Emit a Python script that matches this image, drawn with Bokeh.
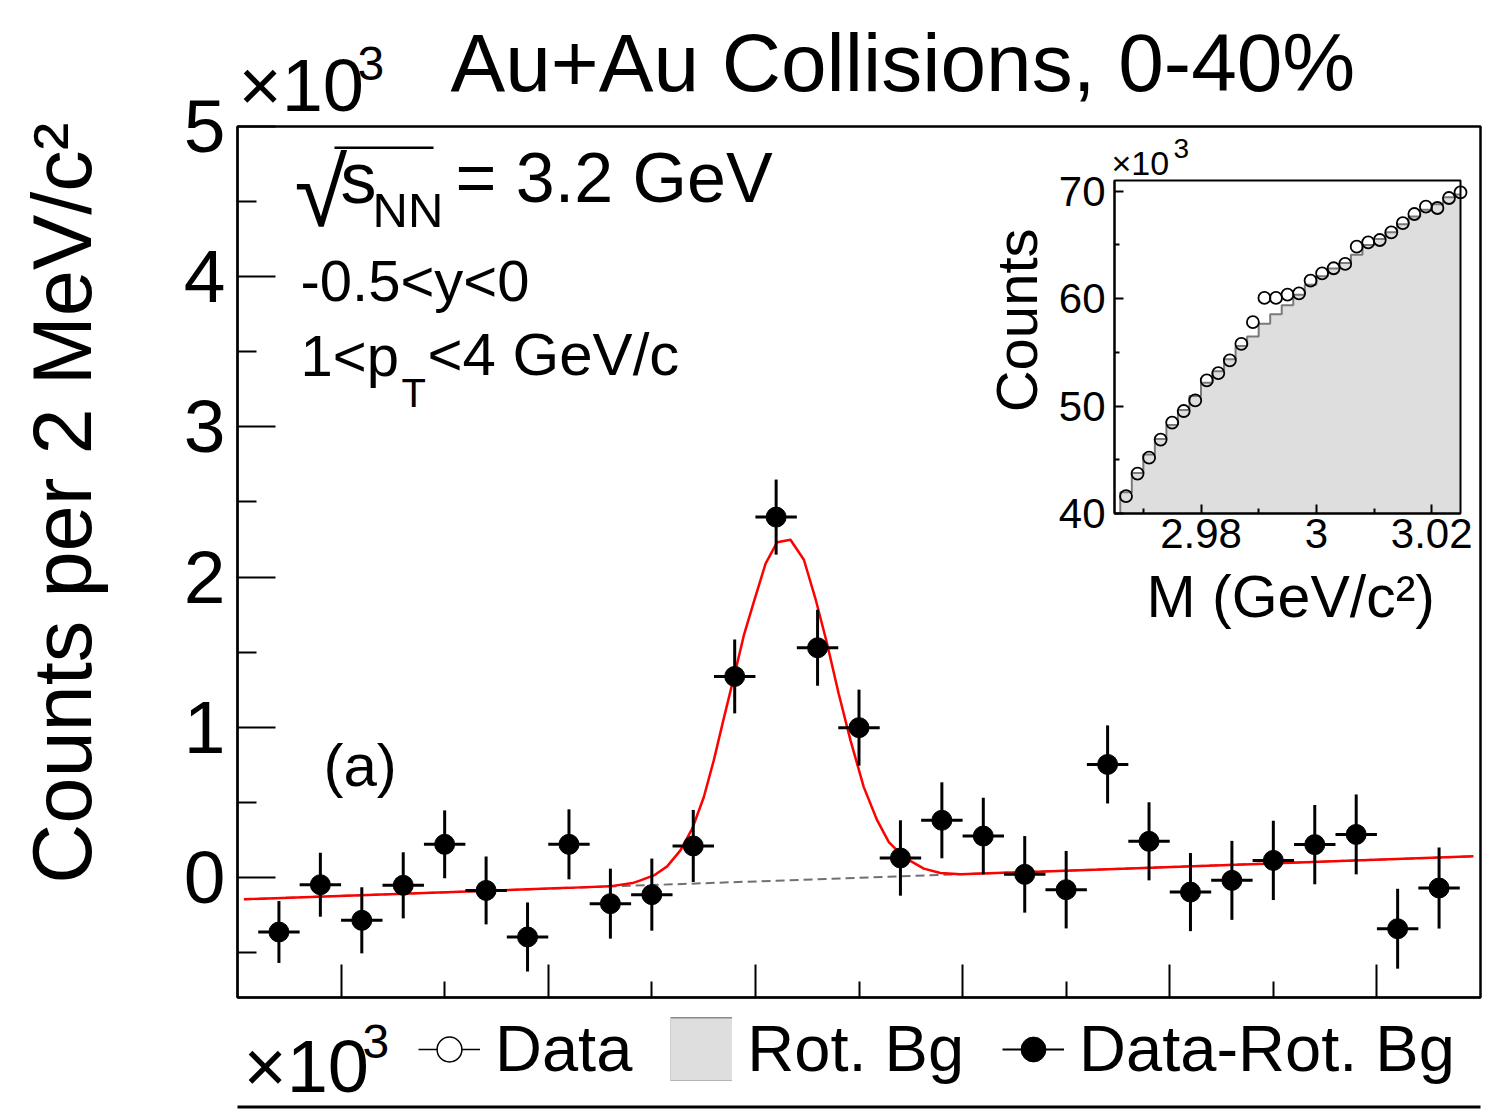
import numpy as np
from bokeh.plotting import figure
from bokeh.models import (Range1d, LinearAxis, FixedTicker, Label, Legend, LegendItem,
                          BoxAnnotation, CustomJSTickFormatter)
from bokeh.embed import file_html
from bokeh.resources import INLINE

FONT = "Liberation Sans"

# ---------------- data ----------------
# invariant-mass bin centres (GeV/c^2), 2 MeV bins
mass_centers = [2.967, 2.969, 2.971, 2.973, 2.975, 2.977, 2.979, 2.981, 2.983, 2.985,
                2.987, 2.989, 2.991, 2.993, 2.995, 2.997, 2.999, 3.001, 3.003, 3.005,
                3.007, 3.009, 3.011, 3.013, 3.015, 3.017, 3.019, 3.021, 3.023, 3.025]
bin_width = 0.002

# Data - Rot. Bg  (x10^3 counts per 2 MeV/c^2), main panel (29 visible bins)
signal = [-0.364, -0.049, -0.286, -0.053, 0.220, -0.087, -0.397, 0.220, -0.175, -0.115,
          0.209, 1.338, 2.399, 1.529, 0.997, 0.129, 0.380, 0.275, 0.020, -0.082,
          0.752, 0.240, -0.098, -0.020, 0.113, 0.218, 0.286, -0.342, -0.071]
signal_err = [0.206, 0.213, 0.220, 0.220, 0.226, 0.226, 0.230, 0.233, 0.233, 0.240,
              0.240, 0.246, 0.250, 0.253, 0.253, 0.251, 0.253, 0.255, 0.255, 0.258,
              0.260, 0.260, 0.260, 0.263, 0.264, 0.264, 0.266, 0.266, 0.270]

# inset: Data (open circles) and rotational background (x10^3 counts)
data_counts = [41.61, 43.72, 45.20, 46.88, 48.46, 49.54, 50.53, 52.39, 53.07, 54.25,
               55.80, 57.81, 60.07, 60.07, 60.38, 60.50, 61.68, 62.36, 62.83, 63.23,
               64.84, 65.24, 65.46, 66.17, 67.04, 67.88, 68.56, 68.44, 69.37, 69.89]
rot_bg = [41.97, 43.77, 45.49, 46.93, 48.24, 49.63, 50.93, 52.17, 53.25, 54.37,
          55.59, 56.47, 57.67, 58.54, 59.38, 60.37, 61.30, 62.09, 62.81, 63.31,
          64.09, 65.00, 65.56, 66.19, 66.93, 67.66, 68.27, 68.78, 69.44, 69.70]

# fit curve (Gaussian + linear), sampled from the figure
fit_x = [2.96531, 2.98098, 2.98296, 2.98407, 2.98445, 2.98510, 2.98574, 2.98638, 2.98695,
         2.98751, 2.98799, 2.98847, 2.98904, 2.98944, 2.98992, 2.99049, 2.99105, 2.99169,
         2.99234, 2.99290, 2.99346, 2.99402, 2.99459, 2.99523, 2.99588, 2.99644, 2.99716,
         2.99813, 2.99893, 2.99990, 3.02466]
fit_y = [-0.146, -0.070, -0.060, -0.038, -0.020, 0.013, 0.073, 0.180, 0.324,
         0.535, 0.779, 1.057, 1.378, 1.611, 1.833, 2.089, 2.232, 2.248,
         2.115, 1.855, 1.556, 1.223, 0.912, 0.601, 0.379, 0.235, 0.135,
         0.058, 0.029, 0.020, 0.140]
# linear residual background of the fit (dashed)
bgfit_x = [2.96531, 3.02466]
bgfit_y = [-0.146, 0.140]

title_text = "Au+Au Collisions, 0-40%"
main_x_ticks = [2.97, 2.98, 2.99, 3.00, 3.01, 3.02]
main_x_minor = [2.975, 2.985, 2.995, 3.005, 3.015]
main_y_ticks = [0, 1, 2, 3, 4, 5]
main_y_minor = [-0.5, 0.5, 1.5, 2.5, 3.5, 4.5]
inset_x_ticks = [2.98, 3.00, 3.02]
inset_x_minor = [2.97, 2.99, 3.01]
inset_y_ticks = [40, 50, 60, 70]
inset_y_minor = [45, 55, 65]

# ---------------- layout (page pixels) ----------------
W, H = 1485, 1109
FL, FR, FT, FB = 237, 1480, 126, 997          # main frame box
IL, IR, IT, IB = 1114, 1460, 180, 513         # inset frame box

XR = (2.965, 3.025)
YR = (-0.8, 5.0)
IX = (2.965, 3.025)
IY = (40.0, 71.0)


def x_span(lo, hi, p_lo, p_hi):
    ppu = (p_hi - p_lo) / (hi - lo)
    start = lo - p_lo / ppu
    return Range1d(start, start + W / ppu)


def y_span(lo, hi, p_bottom, p_top):
    ppu = (p_bottom - p_top) / (hi - lo)
    start = lo - (H - p_bottom) / ppu
    return Range1d(start, start + H / ppu)


p = figure(width=W, height=H,
           x_range=x_span(XR[0], XR[1], FL, FR),
           y_range=y_span(YR[0], YR[1], FB, FT),
           output_backend="svg", toolbar_location=None,
           x_axis_location=None, y_axis_location=None,
           min_border_left=0, min_border_right=0, min_border_top=0, min_border_bottom=0)
p.xgrid.visible = False
p.ygrid.visible = False
p.outline_line_color = None
p.background_fill_color = "white"
p.border_fill_color = "white"
p.extra_x_ranges = {"ix": x_span(IX[0], IX[1], IL, IR)}
p.extra_y_ranges = {"iy": y_span(IY[0], IY[1], IB, IT)}

# ---------------- main axes ----------------
xa = LinearAxis(fixed_location=YR[0], bounds=XR,
                ticker=FixedTicker(ticks=main_x_ticks, minor_ticks=main_x_minor),
                major_tick_in=33, major_tick_out=0, minor_tick_in=16, minor_tick_out=0,
                major_tick_line_width=2, minor_tick_line_width=2, axis_line_width=2,
                major_label_text_color=None)
p.add_layout(xa, "below")
ya = LinearAxis(fixed_location=XR[0], bounds=YR,
                ticker=FixedTicker(ticks=main_y_ticks, minor_ticks=main_y_minor),
                major_tick_in=38, major_tick_out=0, minor_tick_in=19, minor_tick_out=0,
                major_tick_line_width=2, minor_tick_line_width=2, axis_line_width=2,
                major_label_text_font=FONT, major_label_text_font_size="75px",
                major_label_text_color="black", major_label_standoff=12)
p.add_layout(ya, "left")

# ---------------- main panel glyphs ----------------
xc = np.array(mass_centers[:len(signal)])
s = np.array(signal)
e = np.array(signal_err)

p.line(bgfit_x, bgfit_y, line_color="#707070", line_width=2, line_dash="9 5")
p.line(fit_x, fit_y, line_color="red", line_width=2.5)
p.segment(x0=xc - bin_width / 2, y0=s, x1=xc + bin_width / 2, y1=s, line_color="black", line_width=3)
p.segment(x0=xc, y0=s - e, x1=xc, y1=s + e, line_color="black", line_width=3)
p.scatter(xc, s, marker="circle", size=20, fill_color="black", line_color="black")
p.quad(left=[XR[0]], right=[XR[1]], bottom=[YR[0]], top=[YR[1]],
       fill_color=None, line_color="black", line_width=2.5)

# ---------------- inset ----------------
p.quad(left=[IX[0]], right=[IX[1]], bottom=[IY[0]], top=[IY[1]],
       x_range_name="ix", y_range_name="iy", fill_color="white", line_color=None)

edges = np.clip(np.array(mass_centers) - bin_width / 2, IX[0], IX[1])
edges_hi = np.clip(np.array(mass_centers) + bin_width / 2, IX[0], IX[1])
step_x = [edges[0]]
step_y = [IY[0]]
for lo, hi, v in zip(edges, edges_hi, rot_bg):
    step_x += [lo, hi]
    step_y += [v, v]
p.varea(x=step_x, y1=[IY[0]] * len(step_x), y2=step_y, x_range_name="ix", y_range_name="iy",
        fill_color="#dedede")
p.line(step_x, step_y, x_range_name="ix", y_range_name="iy", line_color="#7a7a7a", line_width=2)
p.scatter(mass_centers, data_counts, x_range_name="ix", y_range_name="iy", marker="circle",
          size=12, fill_color=None, line_color="black", line_width=1.8)
p.quad(left=[IX[0]], right=[IX[1]], bottom=[IY[0]], top=[IY[1]],
       x_range_name="ix", y_range_name="iy", fill_color=None, line_color="black", line_width=2)

fmt = CustomJSTickFormatter(code="return Number(tick.toFixed(3)).toString();")
ax_ib = LinearAxis(x_range_name="ix", y_range_name="iy", fixed_location=IY[0], bounds=IX,
                   ticker=FixedTicker(ticks=inset_x_ticks, minor_ticks=inset_x_minor),
                   formatter=fmt, major_tick_in=9, major_tick_out=0, minor_tick_in=5, minor_tick_out=0,
                   major_tick_line_width=2, minor_tick_line_width=2, axis_line_width=2,
                   major_label_text_font=FONT, major_label_text_font_size="42px",
                   major_label_text_color="black", major_label_standoff=5)
p.add_layout(ax_ib, "below")
ax_il = LinearAxis(x_range_name="ix", y_range_name="iy", fixed_location=IX[0], bounds=IY,
                   ticker=FixedTicker(ticks=inset_y_ticks, minor_ticks=inset_y_minor),
                   major_tick_in=9, major_tick_out=0, minor_tick_in=5, minor_tick_out=0,
                   major_tick_line_width=2, minor_tick_line_width=2, axis_line_width=2,
                   major_label_text_font=FONT, major_label_text_font_size="42px",
                   major_label_text_color="black", major_label_standoff=9)
p.add_layout(ax_il, "left")

# ---------------- texts ----------------
BASE = 0.36   # offset of the Label anchor above the glyph baseline, in em


def lab(text, xr, yr, size, align="left", angle=0.0):
    dx = -BASE * size * np.sin(angle)
    dy = BASE * size * np.cos(angle)
    p.add_layout(Label(x=xr + dx, y=H - yr + dy, x_units="screen", y_units="screen",
                       text=text, text_font=FONT, text_font_size=f"{size}px", text_color="black",
                       text_align=align, text_baseline="alphabetic", angle=angle))


def hbar(x0, x1, ytop, thick):
    p.add_layout(BoxAnnotation(left=x0, right=x1, top=H - ytop, bottom=H - ytop - thick,
                               left_units="screen", right_units="screen", top_units="screen",
                               bottom_units="screen", fill_color="black", fill_alpha=1,
                               line_color=None, level="annotation"))


lab(title_text, 450, 92, 82)
lab("×10", 238, 112, 74)
lab("3", 357, 80, 48)
lab("Counts per 2 MeV/c²", 92, 122, 83, align="right", angle=np.pi / 2)

lab("√", 294, 227, 96)
hbar(334, 433, 146, 2.5)
lab("s", 340, 203, 72)
lab("NN", 372, 227, 49)
lab("= 3.2 GeV", 455, 203, 70)
lab("-0.5<y<0", 300, 301, 58)
lab("1<p", 300, 376, 58)
lab("T", 401, 407, 40)
lab("<4 GeV/c", 427, 376, 60)
lab("(a)", 323, 787, 60)

lab("×10", 1111, 175, 34)
lab("3", 1173, 158, 28)
lab("Counts", 1037, 228, 58, align="right", angle=np.pi / 2)
lab("M (GeV/c²)", 1146, 618, 59)

lab("×10", 243, 1093, 74)
lab("3", 362, 1058, 48)

hbar(FL, FR, 1105, 3)

# ---------------- legend (legend-only renderers hold one invisible NaN point) ----------------
nan = [float("nan")]
l_d1 = p.line(x=nan, y=nan, line_color="black", line_width=1.5)
l_d2 = p.scatter(x=nan, y=nan, marker="cross", line_color="black", line_width=1.5)
l_d3 = p.scatter(x=nan, y=nan, marker="circle", line_color="black", fill_color="white", line_width=1.5)
l_b1 = p.line(x=nan, y=nan, line_color="#8a8a8a", line_width=66)
l_b2 = p.line(x=nan, y=nan, line_color="#dedede", line_width=62)
l_s1 = p.line(x=nan, y=nan, line_color="black", line_width=2)
l_s2 = p.scatter(x=nan, y=nan, marker="cross", line_color="black", line_width=2)
l_s3 = p.scatter(x=nan, y=nan, marker="circle", line_color="black", fill_color="black")

legend = Legend(items=[LegendItem(label="Data", renderers=[l_d1, l_d2, l_d3]),
                       LegendItem(label="Rot. Bg", renderers=[l_b1, l_b2]),
                       LegendItem(label="Data-Rot. Bg", renderers=[l_s1, l_s2, l_s3])],
                orientation="horizontal", location=(418, H - 1086),
                glyph_width=62, glyph_height=64, label_standoff=15, spacing=38, padding=0, margin=0,
                border_line_color=None, background_fill_alpha=0,
                label_text_font=FONT, label_text_font_size="65px", label_text_color="black")
p.add_layout(legend, "center")

open("out.html", "w").write(file_html(p, INLINE))
